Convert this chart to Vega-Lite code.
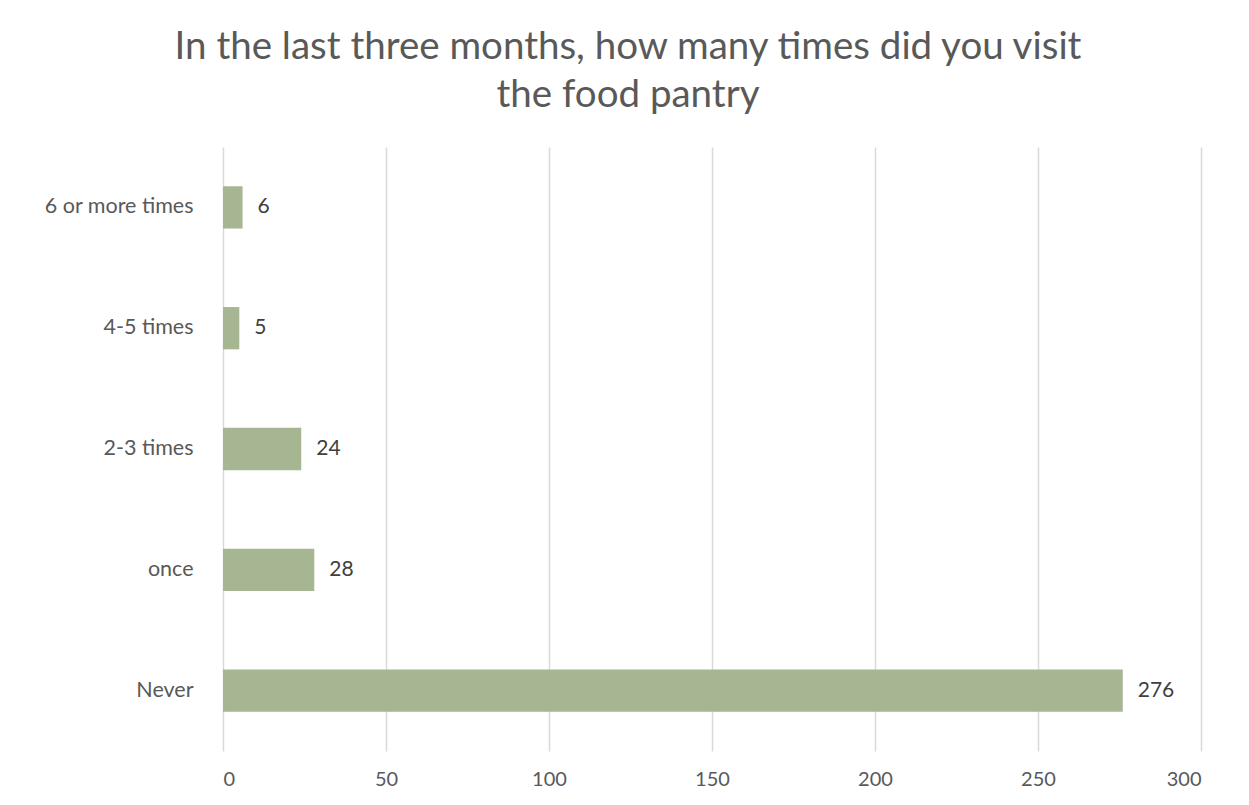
{
  "$schema": "https://vega.github.io/schema/vega-lite/v6.json",
  "width": 978,
  "height": 604,
  "autosize": {"type": "none"},
  "padding": {"left": 223, "top": 147, "right": 48, "bottom": 54},
  "background": "white",
  "title": {
    "text": ["In the last three months, how many times did you visit", "the food pantry"],
    "font": "Lato",
    "fontSize": 38.5,
    "fontWeight": "normal",
    "color": "#595959",
    "anchor": "middle",
    "frame": "group",
    "lineHeight": 48,
    "offset": 32,
    "dx": -84
  },
  "data": {
    "values": [
      {"category": "6 or more times", "count": 6},
      {"category": "4-5 times", "count": 5},
      {"category": "2-3 times", "count": 24},
      {"category": "once", "count": 28},
      {"category": "Never", "count": 276}
    ]
  },
  "encoding": {
    "y": {
      "field": "category",
      "type": "nominal",
      "sort": null,
      "scale": {"paddingInner": 0.65, "paddingOuter": 0.325},
      "axis": {
        "title": null,
        "domain": false,
        "ticks": false,
        "labelFont": "Lato",
        "labelFontSize": 21.5,
        "labelColor": "#595959",
        "labelPadding": 30
      }
    },
    "x": {
      "field": "count",
      "type": "quantitative",
      "scale": {"domain": [0, 300], "nice": false},
      "axis": {
        "title": null,
        "values": [0, 50, 100, 150, 200, 250, 300],
        "domain": false,
        "ticks": false,
        "grid": true,
        "gridColor": "#d9d9d9",
        "gridWidth": 1.5,
        "labelFont": "Lato",
        "labelFontSize": 20,
        "labelColor": "#595959",
        "labelPadding": 18
      }
    }
  },
  "layer": [
    {"mark": {"type": "bar", "color": "#a6b592"}},
    {
      "mark": {"type": "text", "align": "left", "baseline": "middle", "dx": 15, "font": "Lato", "fontSize": 21, "color": "#404040"},
      "encoding": {"text": {"field": "count", "type": "quantitative"}}
    }
  ],
  "config": {"view": {"stroke": null}}
}
